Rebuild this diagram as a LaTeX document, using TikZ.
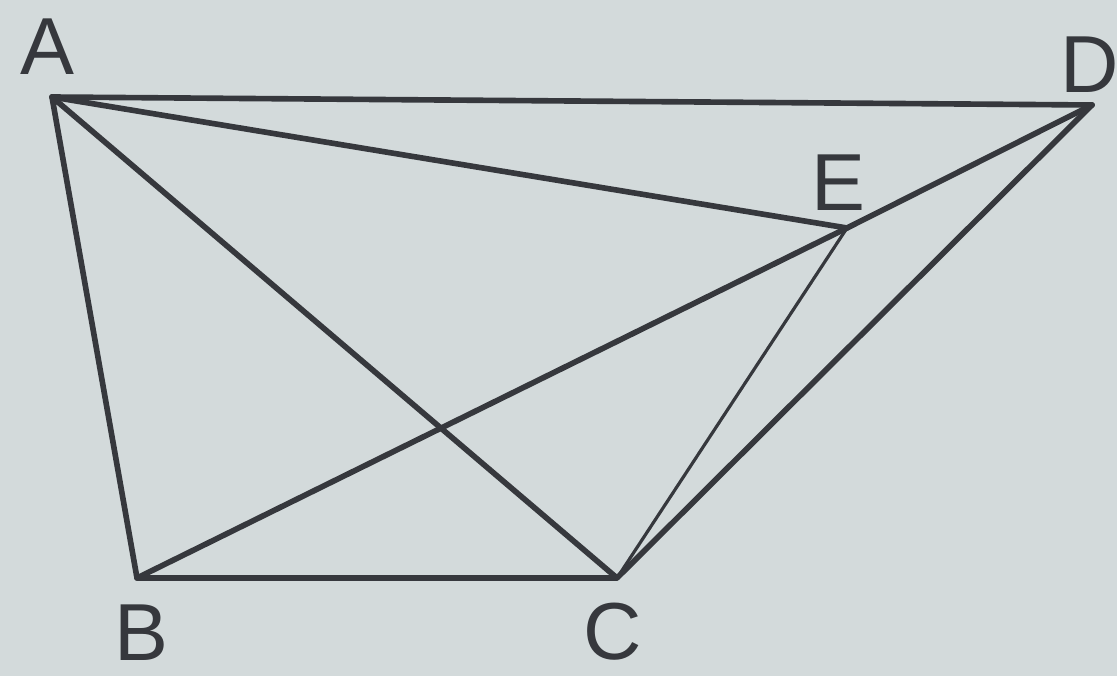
\documentclass[tikz,border=0pt]{standalone}
\usepackage{fontspec}
\setmainfont{Liberation Sans}
\definecolor{bg}{HTML}{D3DADB}
\definecolor{ink}{HTML}{36383D}
\begin{document}
\begin{tikzpicture}[x=0.01cm,y=-0.01cm,
  seg/.style={draw=ink,line width=1.6pt,line cap=round,line join=round},
  thinseg/.style={draw=ink,line width=0.9pt,line cap=round},
  lbl/.style={text=ink,font=\fontsize{23}{27}\selectfont,inner sep=0pt}]
\fill[bg] (0,0) rectangle (1117,676);
\useasboundingbox (0,0) rectangle (1117,676);
\coordinate (A) at (52,97);
\coordinate (D) at (1092,105);
\coordinate (E) at (847,228);
\coordinate (B) at (137,578);
\coordinate (C) at (617,578);
\draw[seg] (A) -- (D);
\draw[seg] (A) -- (E);
\draw[seg] (A) -- (B) -- (C) -- (A);
\draw[seg] (B) -- (E) -- (D);
\draw[seg] (C) -- (D);
\draw[thinseg] (C) -- (E);
\node[lbl] (lA) at (47,47) {A};
\node[lbl] (lD) at (1090,65) {D};
\node[lbl] (lE) at (838,183) {E};
\node[lbl] (lB) at (141,633) {B};
\node[lbl] (lC) at (613,632) {C};
\end{tikzpicture}
\end{document}
